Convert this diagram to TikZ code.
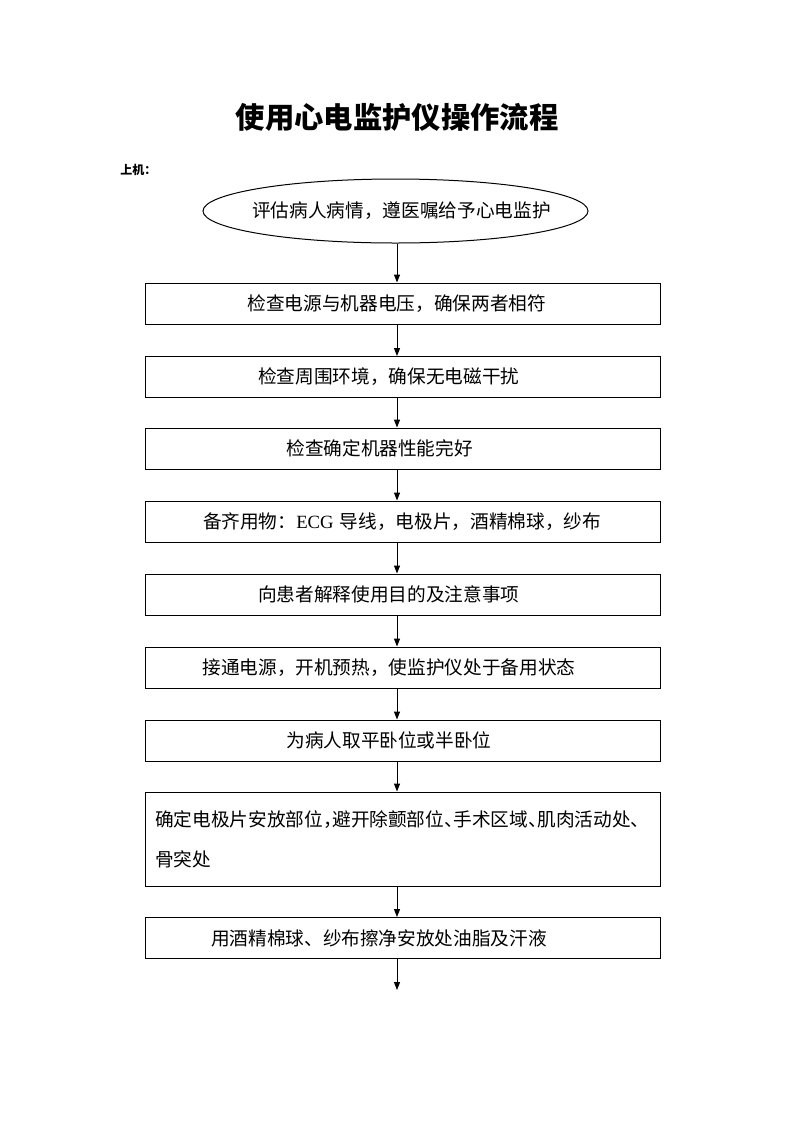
\documentclass[tikz,border=0pt]{standalone}
\usepackage{fontspec}
\setmainfont{Liberation Serif}
\newfontfamily\cjk{Noto Sans CJK SC}
\newfontfamily\cjkhalf{Noto Sans CJK SC}[RawFeature=+halt]
\usetikzlibrary{arrows.meta,shapes.geometric}

\begin{document}
\begin{tikzpicture}[x=0.75pt, y=-0.75pt,
	every node/.style = {inner sep=0pt, font=\cjk\fontsize{14pt}{18pt}\selectfont},
	box/.style = {shape=rectangle, draw, line width=0.75pt, minimum height=30.75pt,
		text width=386.25pt, align=left, execute at begin node={\hspace*{#1}}},
	oval/.style = {shape=ellipse, draw, line width=0.75pt, minimum width=288.75pt, minimum height=48pt},
	arr/.style = {draw, line width=0.75pt, -{Triangle[length=6pt, width=4.5pt]}}]
	\useasboundingbox (0,0) rectangle (793,1122);
	% title
	\node (title) at (397,117) {\cjk\bfseries\fontsize{22pt}{26pt}\selectfont 使用心电监护仪操作流程};
	\node (part) [anchor=west] at (120,170) {\cjk\bfseries\fontsize{9pt}{11pt}\selectfont 上机：};
	% steps
	\node (assess) [oval] at (395.5,211) {\makebox[0pt]{\hspace*{9pt}评估病人病情，遵医嘱给予心电监护}};
	\node (power) [box=77pt] at (402.5,303.5) {检查电源与机器电压，确保两者相符};
	\node (envir) [box=85pt] at (402.5,377) {检查周围环境，确保无电磁干扰};
	\node (device) [box=106pt] at (402.5,448.5) {检查确定机器性能完好};
	\node (items) [box=43.5pt] at (402.5,521.5) {备齐用物：{\rmfamily ECG} 导线，电极片，酒精棉球，纱布};
	\node (explain) [box=85pt] at (402.5,594.5) {向患者解释使用目的及注意事项};
	\node (switch) [box=43pt] at (402.5,667.5) {接通电源，开机预热，使监护仪处于备用状态};
	\node (posture) [box=106pt] at (402.5,740.5) {为病人取平卧位或半卧位};
	\node (site) [box=7.5pt, minimum height=70.5pt, font=\cjkhalf\fontsize{14pt}{30pt}\selectfont] at (402.5,839)
		{确定电极片安放部位，避开除颤部位、手术区域、肌肉活动处、\\\hspace*{7.5pt}骨突处};
	\node (clean) [box=49.5pt] at (402.5,938) {用酒精棉球、纱布擦净安放处油脂及汗液};
	\coordinate (next) at (397,990);
	% connectors
	\foreach \a/\b in {assess/power, power/envir, envir/device, device/items, items/explain,
		explain/switch, switch/posture, posture/site, site/clean}
		\path [arr] (\a.south -| next) -- (\b.north -| next);
	\path [arr] (clean.south -| next) -- (next);
\end{tikzpicture}
\end{document}
